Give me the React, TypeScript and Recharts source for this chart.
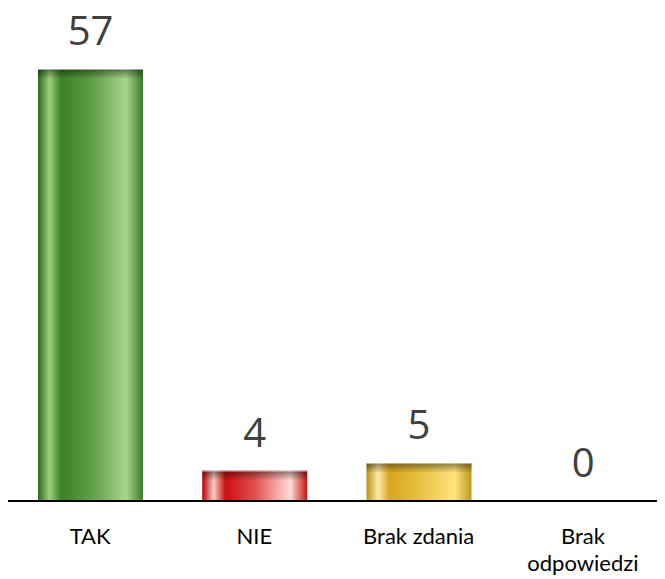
import React from "react";
import { BarChart, Bar, XAxis, YAxis, Cell, LabelList } from "recharts";

const categories = ["TAK", "NIE", "Brak zdania", "Brak odpowiedzi"];
const values = [57, 4, 5, 0];
const palettes = ["green", "red", "gold"];

const data = categories.map((name, i) => ({ name, value: values[i] }));

const gradients: Record<string, string[]> = {
    green: ["#2c6a1c", "#9dce7f", "#3a8125", "#5c9c45", "#a8d68c", "#3c7a2a"],
    red: ["#b80000", "#f7cfc6", "#cc0e0e", "#e05050", "#ffdcd4", "#c01414"],
    gold: ["#b8901a", "#ffeaa8", "#d6a61e", "#e8c040", "#ffe480", "#c09620"],
};

function GlassBar(props: any) {
    const { x, y, width, height, index } = props;
    if (!height || height <= 0) return null;
    const key = palettes[index] || "green";
    const cap = Math.min(10, height / 2);
    return (
        <g>
            <rect x={x} y={y} width={width} height={height} fill={`url(#grad-${key})`} />
            <rect x={x} y={y} width={width} height={cap} fill="url(#top-shade)" />
            <rect x={x} y={y} width={width} height={1} fill="#ffffff" opacity={0.5} />
        </g>
    );
}

function Tick(props: any) {
    const { x, y, payload } = props;
    const words = payload.value === "Brak odpowiedzi" ? ["Brak", "odpowiedzi"] : [payload.value];
    return (
        <text x={x} y={y} textAnchor="middle" fill="#000" fontSize={22} fontFamily="Lato, sans-serif">
            {words.map((w: string, i: number) => (
                <tspan key={i} x={x} dy={i === 0 ? 35 : 27}>
                    {w}
                </tspan>
            ))}
        </text>
    );
}

export default function App() {
    return (
        <div style={{ width: 657, height: 579, marginTop: -8, background: "#fff" }}>
            <BarChart
                width={657}
                height={579}
                data={data}
                margin={{ top: 69, right: 0, bottom: 0, left: 0 }}
                barCategoryGap={0}
            >
                <defs>
                    {Object.keys(gradients).map((k) => {
                        const c = gradients[k];
                        return (
                            <linearGradient key={k} id={`grad-${k}`} x1="0" y1="0" x2="1" y2="0">
                                <stop offset="0%" stopColor={c[0]} />
                                <stop offset="11%" stopColor={c[1]} />
                                <stop offset="22%" stopColor={c[2]} />
                                <stop offset="50%" stopColor={c[3]} />
                                <stop offset="84%" stopColor={c[4]} />
                                <stop offset="100%" stopColor={c[5]} />
                            </linearGradient>
                        );
                    })}
                    <linearGradient id="top-shade" x1="0" y1="0" x2="0" y2="1">
                        <stop offset="0%" stopColor="#000" stopOpacity={0.45} />
                        <stop offset="100%" stopColor="#000" stopOpacity={0} />
                    </linearGradient>
                </defs>
                <XAxis
                    dataKey="name"
                    axisLine={{ stroke: "#000", strokeWidth: 2 }}
                    tickLine={false}
                    height={78}
                    interval={0}
                    tick={<Tick />}
                />
                <YAxis hide domain={[0, 57]} />
                <Bar dataKey="value" barSize={105} isAnimationActive={false} shape={<GlassBar />}>
                    {data.map((d, i) => (
                        <Cell key={d.name} fill={palettes[i] || "green"} />
                    ))}
                    <LabelList
                        dataKey="value"
                        position="top"
                        offset={24}
                        fill="#404040"
                        fontSize={40}
                        fontFamily="'Open Sans', sans-serif"
                    />
                </Bar>
            </BarChart>
        </div>
    );
}
